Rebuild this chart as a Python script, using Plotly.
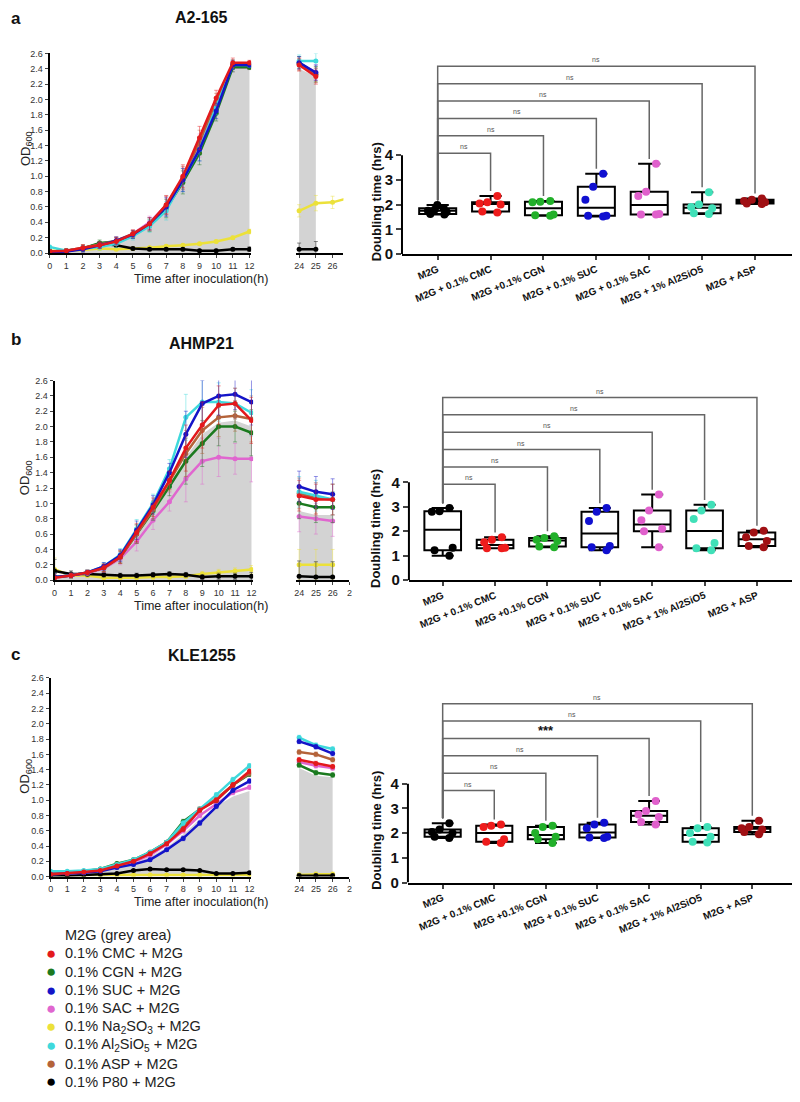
import plotly.graph_objects as go

W, H = 800, 1102
FONT = "Arial, Liberation Sans, sans-serif"

# ---------------- data ----------------
HOURS = list(range(13))
LATE_HOURS = [24, 25, 26, 27]

SERIES = ["CMC", "CGN", "SUC", "SAC", "NA", "AL", "ASP", "P80"]
LEGEND_TITLE = "M2G (grey area)"
LEGEND_NAMES = ["0.1% CMC + M2G", "0.1% CGN + M2G", "0.1% SUC + M2G", "0.1% SAC + M2G",
                "0.1% Na<sub>2</sub>SO<sub>3</sub> + M2G", "0.1% Al<sub>2</sub>SiO<sub>5</sub> + M2G",
                "0.1% ASP + M2G", "0.1% P80 + M2G"]
COLORS = {"CMC": "#e3191c", "CGN": "#1b7a1f", "SUC": "#1414c8", "SAC": "#e066cf",
          "NA": "#ece13a", "AL": "#3fd9dc", "ASP": "#b4633a", "P80": "#000000"}
DRAW_ORDER = ["NA", "P80", "SAC", "CGN", "ASP", "AL", "SUC", "CMC"]

TITLES = ["A2-165", "AHMP21", "KLE1255"]
LETTERS = ["a", "b", "c"]

# Panel a (A2-165)
A_EARLY = {
    "M2G": [0.02, 0.03, 0.06, 0.10, 0.15, 0.24, 0.37, 0.58, 0.95, 1.40, 1.90, 2.40, 2.42],
    "CMC": [0.02, 0.03, 0.07, 0.10, 0.15, 0.25, 0.38, 0.63, 1.00, 1.50, 2.02, 2.48, 2.48],
    "CGN": [0.02, 0.03, 0.06, 0.13, 0.15, 0.24, 0.36, 0.58, 0.92, 1.30, 1.82, 2.42, 2.42],
    "SUC": [0.01, 0.02, 0.05, 0.10, 0.16, 0.24, 0.38, 0.60, 0.95, 1.35, 1.85, 2.45, 2.45],
    "SAC": [0.02, 0.02, 0.06, 0.10, 0.16, 0.25, 0.40, 0.62, 0.97, 1.40, 1.92, 2.42, 2.42],
    "NA":  [0.03, 0.03, 0.04, 0.06, 0.05, 0.06, 0.07, 0.09, 0.10, 0.12, 0.15, 0.20, 0.28],
    "AL":  [0.08, 0.03, 0.06, 0.08, 0.12, 0.22, 0.35, 0.55, 0.95, 1.35, 1.90, 2.45, 2.45],
    "ASP": [0.02, 0.03, 0.07, 0.11, 0.16, 0.25, 0.38, 0.62, 0.98, 1.45, 1.98, 2.46, 2.46],
    "P80": [0.02, 0.03, 0.06, 0.12, 0.10, 0.06, 0.05, 0.05, 0.05, 0.03, 0.03, 0.05, 0.05],
}
A_LATE = {
    "M2G": [2.40, 2.30, None, None],
    "CMC": [2.45, 2.30, None, None],
    "CGN": [2.48, 2.33, None, None],
    "SUC": [2.48, 2.35, None, None],
    "SAC": [2.47, 2.35, None, None],
    "NA":  [0.55, 0.65, 0.66, 0.72],
    "AL":  [2.50, 2.50, None, None],
    "ASP": [2.46, 2.32, None, None],
    "P80": [0.05, 0.05, None, None],
}
A_ERR_EARLY = [0.02, 0.02, 0.04, 0.04, 0.05, 0.05, 0.08, 0.12, 0.15, 0.15, 0.10, 0.06, 0.03]
A_ERR_LATE = [0.08, 0.10, 0.08, 0.05]
A_ERR_LOW = [0.03, 0.02, 0.02, 0.02, 0.02, 0.02, 0.02, 0.02, 0.02, 0.02, 0.02, 0.02, 0.03]

# Panel b (AHMP21)
B_EARLY = {
    "M2G": [0.04, 0.06, 0.10, 0.16, 0.30, 0.60, 0.90, 1.25, 1.60, 1.90, 2.05, 2.08, 2.00],
    "CMC": [0.03, 0.06, 0.10, 0.16, 0.30, 0.62, 0.95, 1.30, 1.72, 2.02, 2.28, 2.30, 2.08],
    "CGN": [0.04, 0.06, 0.10, 0.16, 0.30, 0.60, 0.90, 1.22, 1.55, 1.78, 2.00, 2.00, 1.92],
    "SUC": [0.04, 0.06, 0.10, 0.18, 0.32, 0.65, 0.98, 1.40, 1.90, 2.30, 2.40, 2.42, 2.32],
    "SAC": [0.03, 0.06, 0.09, 0.15, 0.28, 0.50, 0.78, 1.02, 1.32, 1.55, 1.60, 1.58, 1.58],
    "NA":  [0.14, 0.06, 0.06, 0.03, 0.03, 0.03, 0.04, 0.04, 0.05, 0.08, 0.10, 0.12, 0.14],
    "AL":  [0.04, 0.06, 0.10, 0.18, 0.33, 0.67, 1.00, 1.45, 2.12, 2.32, 2.32, 2.30, 2.18],
    "ASP": [0.04, 0.06, 0.10, 0.16, 0.30, 0.60, 0.92, 1.28, 1.65, 1.95, 2.12, 2.14, 2.10],
    "P80": [0.12, 0.08, 0.08, 0.07, 0.06, 0.06, 0.07, 0.08, 0.07, 0.04, 0.05, 0.05, 0.05],
}
B_LATE = {
    "M2G": [0.90, 0.85, 0.85, None],
    "CMC": [1.10, 1.05, 1.05, None],
    "CGN": [1.00, 0.95, 0.95, None],
    "SUC": [1.22, 1.15, 1.12, None],
    "SAC": [0.83, 0.80, 0.77, None],
    "NA":  [0.20, 0.20, 0.20, None],
    "AL":  [1.15, 1.10, 1.05, None],
    "ASP": [1.13, 1.07, 1.05, None],
    "P80": [0.05, 0.04, 0.04, None],
}
B_ERR_EARLY = [0.05, 0.03, 0.03, 0.05, 0.08, 0.12, 0.12, 0.12, 0.30, 0.30, 0.25, 0.20, 0.30]
B_ERR_LATE = [0.20, 0.20, 0.20, 0.0]
B_ERR_LOW = [0.15, 0.04, 0.03, 0.03, 0.03, 0.03, 0.03, 0.03, 0.03, 0.03, 0.04, 0.04, 0.05]

# Panel c (KLE1255)
C_EARLY = {
    "M2G": [0.02, 0.03, 0.05, 0.07, 0.12, 0.17, 0.26, 0.38, 0.55, 0.75, 0.92, 1.05, 1.12],
    "CMC": [0.03, 0.04, 0.06, 0.08, 0.14, 0.20, 0.30, 0.43, 0.62, 0.87, 1.00, 1.20, 1.38],
    "CGN": [0.06, 0.06, 0.07, 0.10, 0.17, 0.22, 0.32, 0.45, 0.72, 0.88, 1.00, 1.20, 1.34],
    "SUC": [0.03, 0.04, 0.05, 0.07, 0.12, 0.16, 0.22, 0.35, 0.50, 0.70, 0.92, 1.13, 1.25],
    "SAC": [0.03, 0.04, 0.05, 0.08, 0.13, 0.19, 0.28, 0.42, 0.60, 0.80, 0.95, 1.10, 1.17],
    "NA":  [0.02, 0.02, 0.02, 0.02, 0.02, 0.02, 0.02, 0.02, 0.02, 0.02, 0.02, 0.02, 0.02],
    "AL":  [0.07, 0.07, 0.08, 0.10, 0.16, 0.22, 0.32, 0.45, 0.70, 0.88, 1.07, 1.27, 1.45],
    "ASP": [0.04, 0.05, 0.06, 0.09, 0.15, 0.21, 0.31, 0.45, 0.65, 0.88, 1.02, 1.20, 1.35],
    "P80": [0.01, 0.01, 0.02, 0.03, 0.04, 0.08, 0.10, 0.09, 0.09, 0.08, 0.04, 0.04, 0.05],
}
C_LATE = {
    "M2G": [1.42, 1.32, 1.30, None],
    "CMC": [1.53, 1.48, 1.44, None],
    "CGN": [1.46, 1.36, 1.33, None],
    "SUC": [1.77, 1.70, 1.61, None],
    "SAC": [1.50, 1.45, 1.42, None],
    "NA":  [0.02, 0.03, 0.03, None],
    "AL":  [1.82, 1.72, 1.67, None],
    "ASP": [1.63, 1.60, 1.53, None],
    "P80": [0.01, 0.01, 0.01, None],
}
C_ERR_EARLY = [0.01, 0.01, 0.01, 0.01, 0.02, 0.02, 0.02, 0.02, 0.03, 0.03, 0.03, 0.03, 0.03]
C_ERR_LATE = [0.03, 0.03, 0.03, 0.0]
C_ERR_LOW = [0.01] * 13

# Doubling-time box plots
GROUPS = ["M2G", "M2G + 0.1% CMC", "M2G +0.1% CGN", "M2G + 0.1% SUC",
          "M2G + 0.1% SAC", "M2G + 1% Al2SiO5", "M2G + ASP"]
GROUP_COLORS = ["#000000", "#ee1c1c", "#22b02a", "#1010d0", "#e060cc", "#40e0b8", "#a01014"]

A_DT = [[1.60, 1.62, 1.70, 1.75, 1.80, 1.85, 1.98],
        [1.68, 1.72, 2.00, 2.05, 2.10, 2.35],
        [1.55, 1.57, 1.60, 2.10, 2.12, 2.15],
        [1.52, 1.55, 1.55, 2.20, 2.72, 3.25],
        [1.60, 1.60, 1.62, 2.35, 2.52, 3.65],
        [1.62, 1.65, 1.85, 1.90, 2.00, 2.50],
        [2.02, 2.05, 2.10, 2.15, 2.20, 2.25]]
B_DT = [[1.00, 1.22, 1.32, 2.80, 2.82, 2.95],
        [1.30, 1.30, 1.32, 1.55, 1.65, 1.75],
        [1.35, 1.38, 1.60, 1.65, 1.72, 1.80],
        [1.22, 1.35, 1.40, 2.42, 2.80, 2.95],
        [1.35, 2.00, 2.10, 2.45, 2.85, 3.50],
        [1.22, 1.30, 1.52, 2.50, 2.85, 3.08],
        [1.35, 1.40, 1.60, 1.75, 1.95, 2.02]]
C_DT = [[1.80, 1.85, 2.00, 2.05, 2.15, 2.40],
        [1.60, 1.65, 1.75, 2.25, 2.30, 2.35],
        [1.60, 1.75, 1.85, 2.00, 2.25, 2.30],
        [1.80, 1.82, 1.85, 2.20, 2.35, 2.42],
        [2.35, 2.45, 2.65, 2.75, 2.90, 3.30],
        [1.62, 1.65, 1.85, 2.00, 2.20, 2.25],
        [1.95, 2.05, 2.15, 2.20, 2.25, 2.50]]

A_SIG = ["ns", "ns", "ns", "ns", "ns", "ns"]
B_SIG = ["ns", "ns", "ns", "ns", "ns", "ns"]
C_SIG = ["ns", "ns", "ns", "***", "ns", "ns"]

# ---------------- layout geometry (pixels) ----------------
PANELS = [
    dict(early=A_EARLY, late=A_LATE, err_e=A_ERR_EARLY, err_l=A_ERR_LATE, err_low=A_ERR_LOW,
         dt=A_DT, sig=A_SIG,
         gx1=(47, 250), gx2=(295, 343), gy=(49, 251), x2range=[23.8, 26.65],
         x2ticks=[24, 25, 26], x2text=["24", "25", "26"],
         bx=(402, 795), bxr=[-0.675, 6.7], by=(60, 252), bytop=7.68,
         br_base=4.08, br_step=0.704,
         letter_y=14, title_y=13, time_y=277, od_y=145),
    dict(early=B_EARLY, late=B_LATE, err_e=B_ERR_EARLY, err_l=B_ERR_LATE, err_low=B_ERR_LOW,
         dt=B_DT, sig=B_SIG,
         gx1=(52, 252), gx2=(295, 349), gy=(380, 582), x2range=[23.8, 27.0],
         x2ticks=[24, 25, 26, 27], x2text=["24", "25", "26", "2"],
         bx=(409, 795), bxr=[-0.645, 6.67], by=(392, 582), bytop=7.68,
         br_base=3.92, br_step=0.71,
         letter_y=338, title_y=343, time_y=608, od_y=478),
    dict(early=C_EARLY, late=C_LATE, err_e=C_ERR_EARLY, err_l=C_ERR_LATE, err_low=C_ERR_LOW,
         dt=C_DT, sig=C_SIG,
         gx1=(48, 250), gx2=(295, 349), gy=(681, 882), x2range=[23.8, 27.0],
         x2ticks=[24, 25, 26, 27], x2text=["24", "25", "26", "2"],
         bx=(408, 795), bxr=[-0.673, 6.77], by=(702, 888), bytop=7.44,
         br_base=3.72, br_step=0.704,
         letter_y=657, title_y=658, time_y=908, od_y=780),
]

LEG_DOT_X, LEG_TEXT_X, LEG_TOP, LEG_STEP = 48, 60, 941, 18.6


def xd(a, b):
    return [a / W, b / W]


def yd(top, bottom):
    return [1 - bottom / H, 1 - top / H]


def sfx(n):
    return "" if n == 1 else str(n)


def rgba(hexc, a):
    h = hexc.lstrip("#")
    return "rgba(%d,%d,%d,%.2f)" % (int(h[0:2], 16), int(h[2:4], 16), int(h[4:6], 16), a)


def pann(xpx, ypx, text, size, color="#222", angle=0, xanchor="center", bold=False):
    return dict(xref="paper", yref="paper", x=xpx / W, y=1 - ypx / H, text=text,
                showarrow=False, xanchor=xanchor, yanchor="middle", textangle=angle,
                font=dict(family=FONT, size=size, color=color,
                          weight="bold" if bold else "normal"))


fig = go.Figure()
layout = dict(width=W, height=H, margin=dict(l=0, r=0, t=0, b=0),
              paper_bgcolor="white", plot_bgcolor="white", showlegend=False,
              font=dict(family=FONT, color="#222"))
annotations = []
shapes = []

TICKF = dict(family=FONT, size=9, color="#333")

for p, P in enumerate(PANELS):
    nx1, nx2, nxb = 3 * p + 1, 3 * p + 2, 3 * p + 3
    ny, nyb = 2 * p + 1, 2 * p + 2
    xa1, xa2, xab = "x" + sfx(nx1), "x" + sfx(nx2), "x" + sfx(nxb)
    ya, yab = "y" + sfx(ny), "y" + sfx(nyb)

    # ---- growth axes ----
    layout["xaxis" + sfx(nx1)] = dict(domain=xd(*P["gx1"]), anchor=ya, range=[0, 12.1],
                                      tickvals=HOURS, ticks="outside", ticklen=3, tickwidth=1,
                                      showline=True, linewidth=2, linecolor="black",
                                      showgrid=False, zeroline=False, tickfont=TICKF)
    layout["xaxis" + sfx(nx2)] = dict(domain=xd(*P["gx2"]), anchor=ya, range=P["x2range"],
                                      tickvals=P["x2ticks"], ticktext=P["x2text"],
                                      ticks="outside", ticklen=3, tickwidth=1,
                                      showline=True, linewidth=2, linecolor="black",
                                      showgrid=False, zeroline=False, tickfont=TICKF)
    layout["yaxis" + sfx(ny)] = dict(domain=yd(*P["gy"]), anchor=xa1, range=[0, 2.6],
                                     dtick=0.2, tick0=0, tickformat=".1f", ticks="outside",
                                     ticklen=3, tickwidth=1, showline=True, linewidth=2,
                                     linecolor="black", showgrid=False, zeroline=False,
                                     tickfont=TICKF)

    # grey M2G area
    for xa, xs, ys in [(xa1, HOURS, P["early"]["M2G"]), (xa2, LATE_HOURS, P["late"]["M2G"])]:
        fig.add_trace(go.Scatter(x=xs, y=ys, xaxis=xa, yaxis=ya, mode="lines",
                                 line=dict(width=0, color="#d3d3d3"), fill="tozeroy",
                                 fillcolor="#d3d3d3", hoverinfo="skip"))
    # growth series
    for s in DRAW_ORDER:
        c = COLORS[s]
        low = s in ("NA", "P80")
        err_e = P["err_low"] if low else P["err_e"]
        err_l = P["err_l"]
        ecol = rgba(c, 0.45) if c != "#000000" else "rgba(60,60,60,0.6)"
        for xa, xs, ys, er in [(xa1, HOURS, P["early"][s], err_e),
                               (xa2, LATE_HOURS, P["late"][s], err_l)]:
            fig.add_trace(go.Scatter(
                x=xs, y=ys, xaxis=xa, yaxis=ya, mode="lines+markers",
                line=dict(color=c, width=2.5), marker=dict(color=c, size=5),
                error_y=dict(type="data", array=er, color=ecol, thickness=1, width=2),
                cliponaxis=True))

    # ---- box plot axes ----
    layout["xaxis" + sfx(nxb)] = dict(domain=xd(*P["bx"]), anchor=yab, range=P["bxr"],
                                      tickvals=list(range(len(GROUPS))), ticktext=GROUPS,
                                      tickangle=-22, ticks="outside", ticklen=4, tickwidth=1.5,
                                      showline=True, linewidth=2, linecolor="black",
                                      showgrid=False, zeroline=False,
                                      tickfont=dict(family=FONT, size=10, color="#111", weight="bold"))
    layout["yaxis" + sfx(nyb)] = dict(domain=yd(*P["by"]), anchor=xab, range=[0, P["bytop"]],
                                      tickvals=[0, 1, 2, 3, 4], ticks="outside", ticklen=5,
                                      tickwidth=2, showline=False, showgrid=False, zeroline=False,
                                      tickfont=dict(family=FONT, size=15, color="#111", weight="bold"))
    shapes.append(dict(type="line", xref=xab + " domain", yref=yab, x0=0, x1=0, y0=0, y1=4,
                       line=dict(color="black", width=2)))

    for i, vals in enumerate(P["dt"]):
        fig.add_trace(go.Box(y=vals, x0=i, xaxis=xab, yaxis=yab, boxpoints="all", jitter=0.7,
                             pointpos=0, width=0.7, whiskerwidth=0.6, quartilemethod="exclusive",
                             marker=dict(color=GROUP_COLORS[i], size=8),
                             line=dict(color="black", width=2), fillcolor="rgba(255,255,255,0)",
                             hoverinfo="skip"))

    # significance brackets
    m2g_top = max(P["dt"][0]) + 0.2
    for k in range(1, len(GROUPS)):
        lvl = P["br_base"] + (k - 1) * P["br_step"]
        gtop = max(P["dt"][k]) + 0.2
        shapes.append(dict(type="path", xref=xab, yref=yab,
                           path="M 0,%f L 0,%f L %d,%f L %d,%f" % (m2g_top, lvl, k, lvl, k, gtop),
                           line=dict(color="#666", width=1.5)))
        lab = P["sig"][k - 1]
        bold = lab != "ns"
        annotations.append(dict(xref=xab, yref=yab, x=k / 2, y=lvl, text=lab, showarrow=False,
                                xanchor="center", yanchor="bottom", yshift=-2 if bold else 1,
                                font=dict(family=FONT, size=13 if bold else 7,
                                          color="#111" if bold else "#555",
                                          weight="bold" if bold else "normal")))

    # doubling-time title
    annotations.append(dict(xref="paper", yref=yab, x=376 / W, y=2.1, text="Doubling time (hrs)",
                            textangle=-90, showarrow=False, xanchor="center", yanchor="middle",
                            font=dict(family=FONT, size=13, color="#111", weight="bold")))
    # growth titles / labels
    annotations.append(pann(13, P["letter_y"], LETTERS[p], 17, "#111", bold=True))
    annotations.append(pann(200, P["title_y"], TITLES[p], 16, "#111", bold=True))
    annotations.append(pann(199, P["time_y"], "Time after inoculation(h)", 12.5))
    annotations.append(pann(23, P["od_y"], "OD<sub>600</sub>", 13, angle=-90))

# ---- legend (drawn as text rows) ----
annotations.append(pann(LEG_TEXT_X, LEG_TOP, LEGEND_TITLE, 14.5, xanchor="left"))
for r, (s, nm) in enumerate(zip(SERIES, LEGEND_NAMES)):
    yrow = LEG_TOP + (r + 1) * LEG_STEP
    annotations.append(pann(LEG_DOT_X, yrow, "\u25CF", 17, COLORS[s]))
    annotations.append(pann(LEG_TEXT_X, yrow, nm, 14.5, xanchor="left"))

layout["annotations"] = annotations
layout["shapes"] = shapes
fig.update_layout(**layout)

fig.write_html("out.html", config={"displayModeBar": False},
               post_script="document.body.style.margin='0px';document.body.style.overflow='hidden';")
